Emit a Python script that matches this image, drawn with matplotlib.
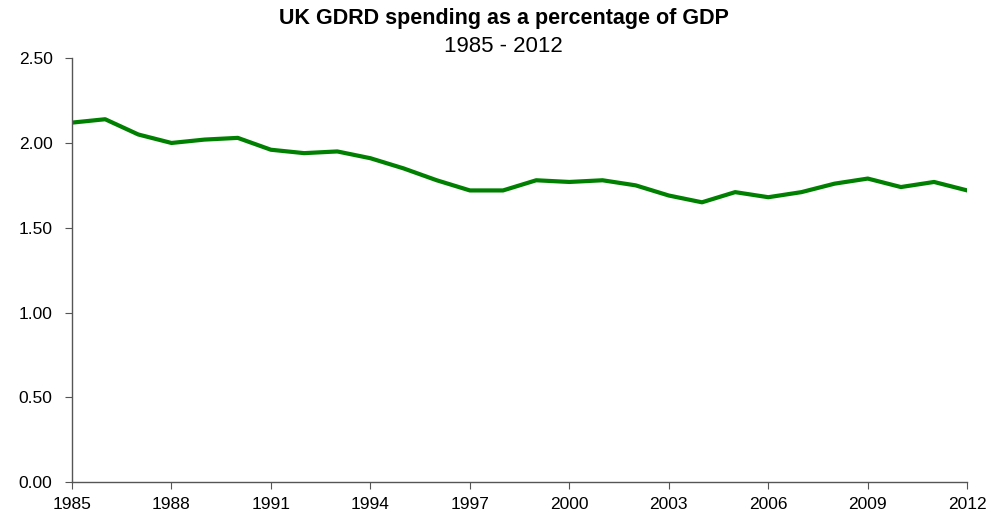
import matplotlib
matplotlib.use("Agg")
import matplotlib.pyplot as plt

plt.rcParams['font.family'] = ['Liberation Sans', 'DejaVu Sans']

years = list(range(1985, 2013))
gdrd_pct = [2.12, 2.14, 2.05, 2.00, 2.02, 2.03, 1.96, 1.94, 1.95, 1.91,
            1.85, 1.78, 1.72, 1.72, 1.78, 1.77, 1.78, 1.75, 1.69, 1.65,
            1.71, 1.68, 1.71, 1.76, 1.79, 1.74, 1.77, 1.72]
xticks = list(range(1985, 2013, 3))
yticks = [0.0, 0.5, 1.0, 1.5, 2.0, 2.5]

fig = plt.figure(figsize=(10.07, 5.15), dpi=100)
ax = fig.add_axes([0.0715, 0.064, 0.889, 0.823])

ax.plot(years, gdrd_pct, color='#008000', lw=3, solid_joinstyle='round')

ax.set_xlim(1985, 2012)
ax.set_ylim(0, 2.5)
ax.set_xticks(xticks)
ax.set_yticks(yticks)
ax.set_yticklabels(["%.2f" % v for v in yticks])

for s in ['top', 'right']:
    ax.spines[s].set_visible(False)
for s in ['left', 'bottom']:
    ax.spines[s].set_color('#555555')
    ax.spines[s].set_linewidth(1)
ax.tick_params(direction='out', length=5, color='#555555', labelsize=12.5)
ax.tick_params(axis='y', pad=9)
ax.tick_params(axis='x', pad=6)

fig.text(0.5, 0.964, "UK GDRD spending as a percentage of GDP", ha='center',
         va='center', fontsize=15.5, fontweight='bold')
fig.text(0.5, 0.91, "1985 - 2012", ha='center', va='center', fontsize=16)

fig.savefig("out.png", dpi=100)
